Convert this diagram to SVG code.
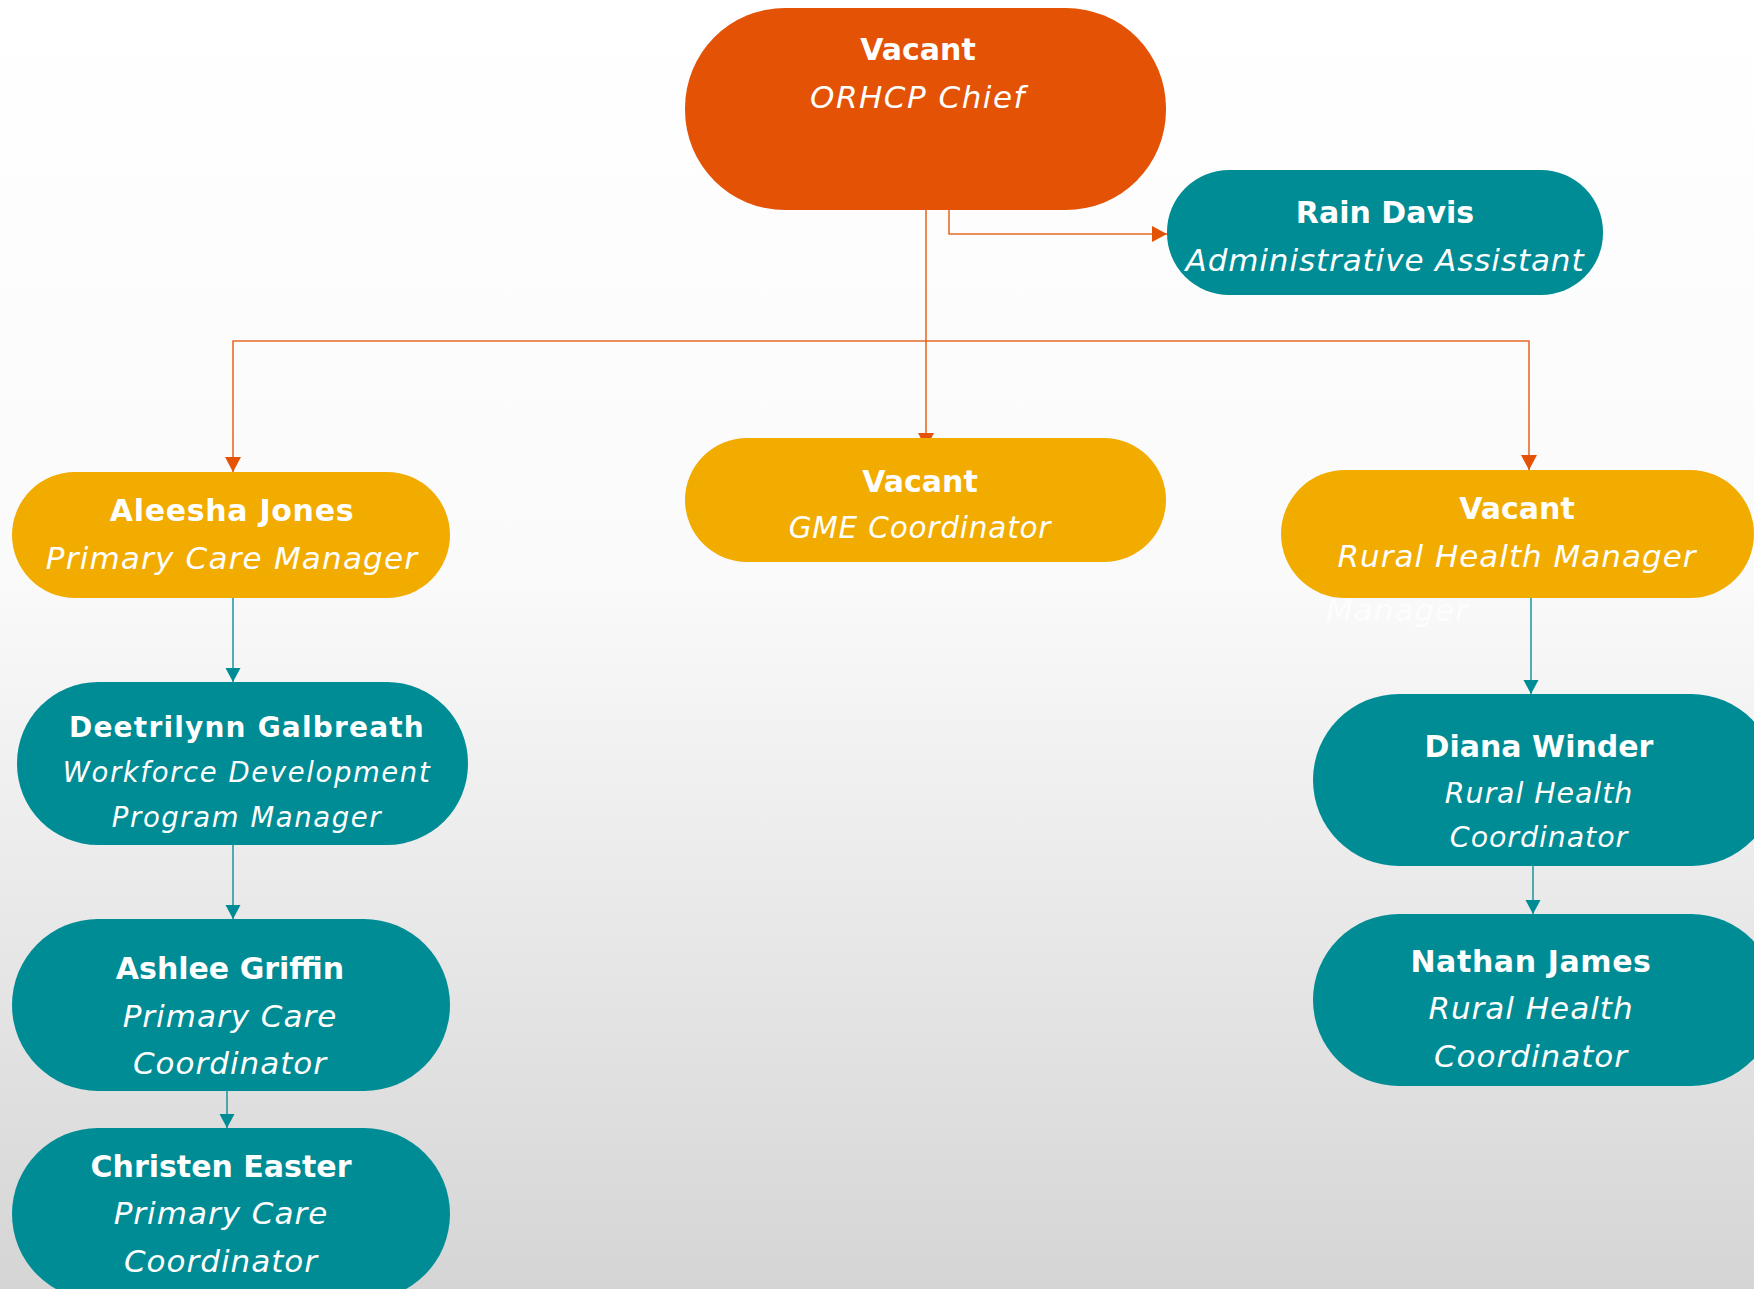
<svg xmlns="http://www.w3.org/2000/svg" width="1754" height="1289" viewBox="0 0 1754 1289">
<defs>
<linearGradient id="bg" x1="0" y1="0" x2="0" y2="1">
<stop offset="0" stop-color="#FFFFFF"/>
<stop offset="0.45" stop-color="#FAFAFA"/>
<stop offset="1" stop-color="#D5D5D5"/>
</linearGradient>
<marker id="ao" markerUnits="userSpaceOnUse" markerWidth="16" markerHeight="16" refX="15" refY="8" orient="auto">
<path d="M0,0 L15,8 L0,16 Z" fill="#E35205"/>
</marker>
<marker id="at" markerUnits="userSpaceOnUse" markerWidth="15" markerHeight="16" refX="14" refY="7.5" orient="auto">
<path d="M0,0 L14,7.5 L0,15 Z" fill="#008C95"/>
</marker>
<style>
.o{fill:#E35205}
.y{fill:#F2AC00}
.t{fill:#008C95}
.n{font-family:"DejaVu Sans","Liberation Sans",sans-serif;font-weight:bold;fill:#fff;text-anchor:middle;font-size:30px}
.r{font-family:"DejaVu Sans","Liberation Sans",sans-serif;font-style:italic;font-weight:300;fill:#fff;text-anchor:middle;font-size:31px;letter-spacing:1px}
.lo{fill:none;stroke:#E35205;stroke-width:1.6;stroke-opacity:0.85}
.lt{fill:none;stroke:#008C95;stroke-width:1.6;stroke-opacity:0.85}
</style>
</defs>
<rect x="0" y="0" width="1754" height="1289" fill="url(#bg)"/>
<g id="connectors">
<path class="lo" d="M926,209 V448" marker-end="url(#ao)"/>
<path class="lo" d="M926,341 H233 V472" marker-end="url(#ao)"/>
<path class="lo" d="M926,341 H1529 V470" marker-end="url(#ao)"/>
<path class="lo" d="M949,209 V234 H1167" marker-end="url(#ao)"/>
<path class="lt" d="M233,598 V682" marker-end="url(#at)"/>
<path class="lt" d="M233,845 V919" marker-end="url(#at)"/>
<path class="lt" d="M227,1091 V1128" marker-end="url(#at)"/>
<path class="lt" d="M1531,598 V694" marker-end="url(#at)"/>
<path class="lt" d="M1533,866 V914" marker-end="url(#at)"/>
</g>
<g id="chief">
<rect class="o" x="685" y="8" width="481" height="202" rx="100" ry="100"/>
<text class="n" x="918" y="60">Vacant</text>
<text class="r" x="918" y="108" style="letter-spacing:1.5px">ORHCP Chief</text>
</g>
<g id="rain-davis">
<rect class="t" x="1167" y="170" width="436" height="125" rx="62" ry="62"/>
<text class="n" x="1385" y="223">Rain Davis</text>
<text class="r" x="1385" y="271" style="letter-spacing:0.9px">Administrative Assistant</text>
</g>
<g id="aleesha-jones">
<rect class="y" x="12" y="472" width="438" height="126" rx="63" ry="63"/>
<text class="n" x="232" y="521" style="letter-spacing:0.7px">Aleesha Jones</text>
<text class="r" x="232" y="569" style="letter-spacing:1.2px">Primary Care Manager</text>
</g>
<g id="gme-coordinator">
<rect class="y" x="685" y="438" width="481" height="124" rx="62" ry="62"/>
<text class="n" x="920" y="492">Vacant</text>
<text class="r" x="920" y="538" style="font-size:29.5px;letter-spacing:0.8px">GME Coordinator</text>
</g>
<g id="rural-health-manager">
<rect class="y" x="1281" y="470" width="473" height="128" rx="64" ry="64"/>
<text class="n" x="1517" y="519">Vacant</text>
<text class="r" x="1517" y="567">Rural Health Manager</text>
<text class="r" x="1326" y="621" style="text-anchor:start;fill-opacity:0.8">Manager</text>
</g>
<g id="deetrilynn-galbreath">
<rect class="t" x="17" y="682" width="451" height="163" rx="81" ry="81"/>
<text class="n" x="247" y="737" style="font-size:28px;letter-spacing:1.2px">Deetrilynn Galbreath</text>
<text class="r" x="247" y="782" style="font-size:27.5px;letter-spacing:1.6px">Workforce Development</text>
<text class="r" x="247" y="827" style="font-size:27.5px;letter-spacing:1.6px">Program Manager</text>
</g>
<g id="ashlee-griffin">
<rect class="t" x="12" y="919" width="438" height="172" rx="86" ry="86"/>
<text class="n" x="230" y="979">Ashlee Griffin</text>
<text class="r" x="230" y="1027">Primary Care</text>
<text class="r" x="230" y="1074">Coordinator</text>
</g>
<g id="christen-easter">
<rect class="t" x="12" y="1128" width="438" height="172" rx="86" ry="86"/>
<text class="n" x="221" y="1177">Christen Easter</text>
<text class="r" x="221" y="1224">Primary Care</text>
<text class="r" x="221" y="1272">Coordinator</text>
</g>
<g id="diana-winder">
<rect class="t" x="1313" y="694" width="464" height="172" rx="86" ry="86"/>
<text class="n" x="1539" y="757">Diana Winder</text>
<text class="r" x="1539" y="803" style="font-size:28.5px;letter-spacing:0.9px">Rural Health</text>
<text class="r" x="1539" y="847" style="font-size:28.5px;letter-spacing:0.9px">Coordinator</text>
</g>
<g id="nathan-james">
<rect class="t" x="1313" y="914" width="464" height="172" rx="86" ry="86"/>
<text class="n" x="1531" y="972" style="letter-spacing:0.6px">Nathan James</text>
<text class="r" x="1531" y="1019">Rural Health</text>
<text class="r" x="1531" y="1067">Coordinator</text>
</g>
</svg>
